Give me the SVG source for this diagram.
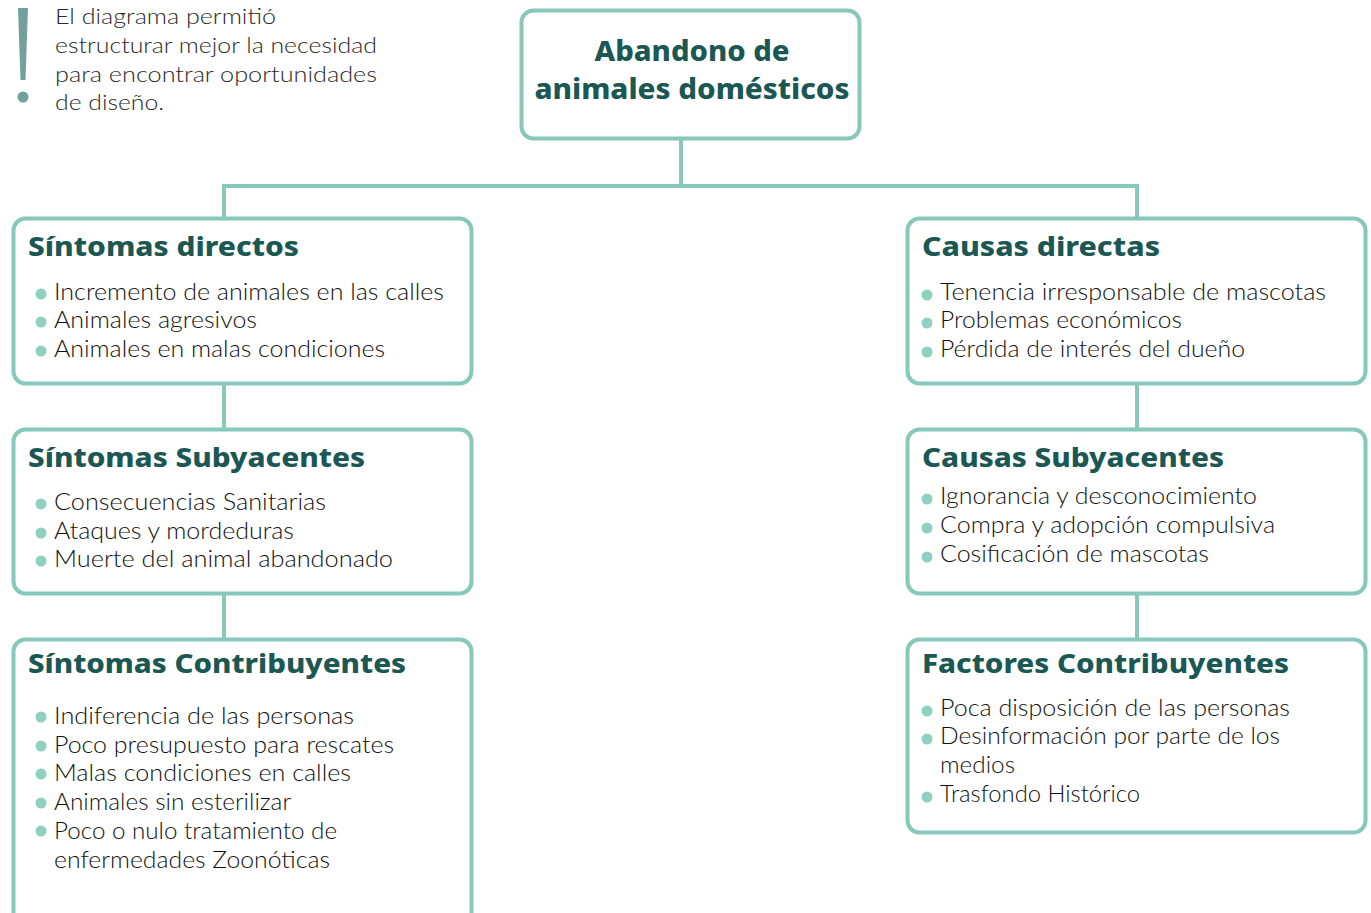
<svg xmlns="http://www.w3.org/2000/svg" width="1371" height="913" viewBox="0 0 1371 913">
<style>
.box{fill:#ffffff;stroke:#86c8b9;stroke-width:4}
.conn{fill:none;stroke:#86c8b9;stroke-width:4}
.title{font-family:"Noto Sans","Open Sans",sans-serif;font-weight:800;font-size:27px;fill:#1b5753}
.main{font-family:"Noto Sans","Open Sans",sans-serif;font-weight:800;font-size:29px;fill:#1b5753;text-anchor:middle}
.item{font-family:Lato,"Liberation Sans",sans-serif;font-weight:300;font-size:23px;fill:#111111}
.note{font-family:Lato,"Liberation Sans",sans-serif;font-weight:300;font-size:22px;fill:#2a2a2a}
.dot{fill:#8fd1c1}
</style>
<rect width="1371" height="913" fill="#ffffff"/>
<g id="note">
<path d="M18,8 L28,8 L25.5,80 L20.5,80 Z" fill="#72a09b"/>
<circle cx="23" cy="97" r="5.5" fill="#72a09b"/>
<text class="note" x="55" y="24" textLength="221" lengthAdjust="spacingAndGlyphs">El diagrama permitió</text>
<text class="note" x="55" y="53" textLength="322" lengthAdjust="spacingAndGlyphs">estructurar mejor la necesidad</text>
<text class="note" x="55" y="82" textLength="322" lengthAdjust="spacingAndGlyphs">para encontrar oportunidades</text>
<text class="note" x="55" y="110" textLength="109" lengthAdjust="spacingAndGlyphs">de diseño.</text>
</g>
<g id="connectors">
<path class="conn" d="M681,139 V186 M224,186 H1137 M224,184 V219 M1137,184 V219"/>
<path class="conn" d="M224,384 V429 M224,594 V639"/>
<path class="conn" d="M1137,384 V429 M1137,594 V639"/>
</g>
<g id="root">
<rect class="box" x="521.5" y="10.5" width="338" height="128" rx="12"/>
<text class="main" x="692" y="61" textLength="195" lengthAdjust="spacingAndGlyphs">Abandono de</text>
<text class="main" x="692" y="99" textLength="315" lengthAdjust="spacingAndGlyphs">animales domésticos</text>
</g>
<g id="sintomas-directos">
<rect class="box" x="13.5" y="218.5" width="458" height="165" rx="12"/>
<text class="title" x="28" y="256" textLength="271" lengthAdjust="spacingAndGlyphs">Síntomas directos</text>
<circle class="dot" cx="41" cy="294" r="5.5"/><text class="item" x="54" y="300" textLength="390" lengthAdjust="spacingAndGlyphs">Incremento de animales en las calles</text>
<circle class="dot" cx="41" cy="322" r="5.5"/><text class="item" x="54" y="328" textLength="203" lengthAdjust="spacingAndGlyphs">Animales agresivos</text>
<circle class="dot" cx="41" cy="351" r="5.5"/><text class="item" x="54" y="357" textLength="331" lengthAdjust="spacingAndGlyphs">Animales en malas condiciones</text>
</g>
<g id="sintomas-subyacentes">
<rect class="box" x="13.5" y="429.5" width="458" height="164" rx="12"/>
<text class="title" x="28" y="467" textLength="337" lengthAdjust="spacingAndGlyphs">Síntomas Subyacentes</text>
<circle class="dot" cx="41" cy="504" r="5.5"/><text class="item" x="54" y="510" textLength="272" lengthAdjust="spacingAndGlyphs">Consecuencias Sanitarias</text>
<circle class="dot" cx="41" cy="533" r="5.5"/><text class="item" x="54" y="539" textLength="240" lengthAdjust="spacingAndGlyphs">Ataques y mordeduras</text>
<circle class="dot" cx="41" cy="561" r="5.5"/><text class="item" x="54" y="567" textLength="339" lengthAdjust="spacingAndGlyphs">Muerte del animal abandonado</text>
</g>
<g id="sintomas-contribuyentes">
<rect class="box" x="13.5" y="639.5" width="458" height="290" rx="12"/>
<text class="title" x="28" y="673" textLength="378" lengthAdjust="spacingAndGlyphs">Síntomas Contribuyentes</text>
<circle class="dot" cx="41" cy="717" r="5.5"/><text class="item" x="54" y="724" textLength="300" lengthAdjust="spacingAndGlyphs">Indiferencia de las personas</text>
<circle class="dot" cx="41" cy="746" r="5.5"/><text class="item" x="54" y="753" textLength="340" lengthAdjust="spacingAndGlyphs">Poco presupuesto para rescates</text>
<circle class="dot" cx="41" cy="774" r="5.5"/><text class="item" x="54" y="781" textLength="297" lengthAdjust="spacingAndGlyphs">Malas condiciones en calles</text>
<circle class="dot" cx="41" cy="803" r="5.5"/><text class="item" x="54" y="810" textLength="237" lengthAdjust="spacingAndGlyphs">Animales sin esterilizar</text>
<circle class="dot" cx="41" cy="831" r="5.5"/><text class="item" x="54" y="839" textLength="283" lengthAdjust="spacingAndGlyphs">Poco o nulo tratamiento de</text>
<text class="item" x="54" y="868" textLength="276" lengthAdjust="spacingAndGlyphs">enfermedades Zoonóticas</text>
</g>
<g id="causas-directas">
<rect class="box" x="907.5" y="218.5" width="458" height="165" rx="12"/>
<text class="title" x="922" y="256" textLength="238" lengthAdjust="spacingAndGlyphs">Causas directas</text>
<circle class="dot" cx="927" cy="295" r="5.5"/><text class="item" x="940" y="300" textLength="386" lengthAdjust="spacingAndGlyphs">Tenencia irresponsable de mascotas</text>
<circle class="dot" cx="927" cy="323" r="5.5"/><text class="item" x="940" y="328" textLength="242" lengthAdjust="spacingAndGlyphs">Problemas económicos</text>
<circle class="dot" cx="927" cy="352" r="5.5"/><text class="item" x="940" y="357" textLength="305" lengthAdjust="spacingAndGlyphs">Pérdida de interés del dueño</text>
</g>
<g id="causas-subyacentes">
<rect class="box" x="907.5" y="429.5" width="458" height="164" rx="12"/>
<text class="title" x="922" y="467" textLength="302" lengthAdjust="spacingAndGlyphs">Causas Subyacentes</text>
<circle class="dot" cx="927" cy="499" r="5.5"/><text class="item" x="940" y="504" textLength="317" lengthAdjust="spacingAndGlyphs">Ignorancia y desconocimiento</text>
<circle class="dot" cx="927" cy="528" r="5.5"/><text class="item" x="940" y="533" textLength="335" lengthAdjust="spacingAndGlyphs">Compra y adopción compulsiva</text>
<circle class="dot" cx="927" cy="557" r="5.5"/><text class="item" x="940" y="562" textLength="269" lengthAdjust="spacingAndGlyphs">Cosificación de mascotas</text>
</g>
<g id="factores-contribuyentes">
<rect class="box" x="907.5" y="639.5" width="458" height="193" rx="12"/>
<text class="title" x="922" y="673" textLength="367" lengthAdjust="spacingAndGlyphs">Factores Contribuyentes</text>
<circle class="dot" cx="927" cy="711" r="5.5"/><text class="item" x="940" y="716" textLength="350" lengthAdjust="spacingAndGlyphs">Poca disposición de las personas</text>
<circle class="dot" cx="927" cy="739" r="5.5"/><text class="item" x="940" y="744" textLength="340" lengthAdjust="spacingAndGlyphs">Desinformación por parte de los</text>
<text class="item" x="940" y="773" textLength="75" lengthAdjust="spacingAndGlyphs">medios</text>
<circle class="dot" cx="927" cy="797" r="5.5"/><text class="item" x="940" y="802" textLength="200" lengthAdjust="spacingAndGlyphs">Trasfondo Histórico</text>
</g>
</svg>
